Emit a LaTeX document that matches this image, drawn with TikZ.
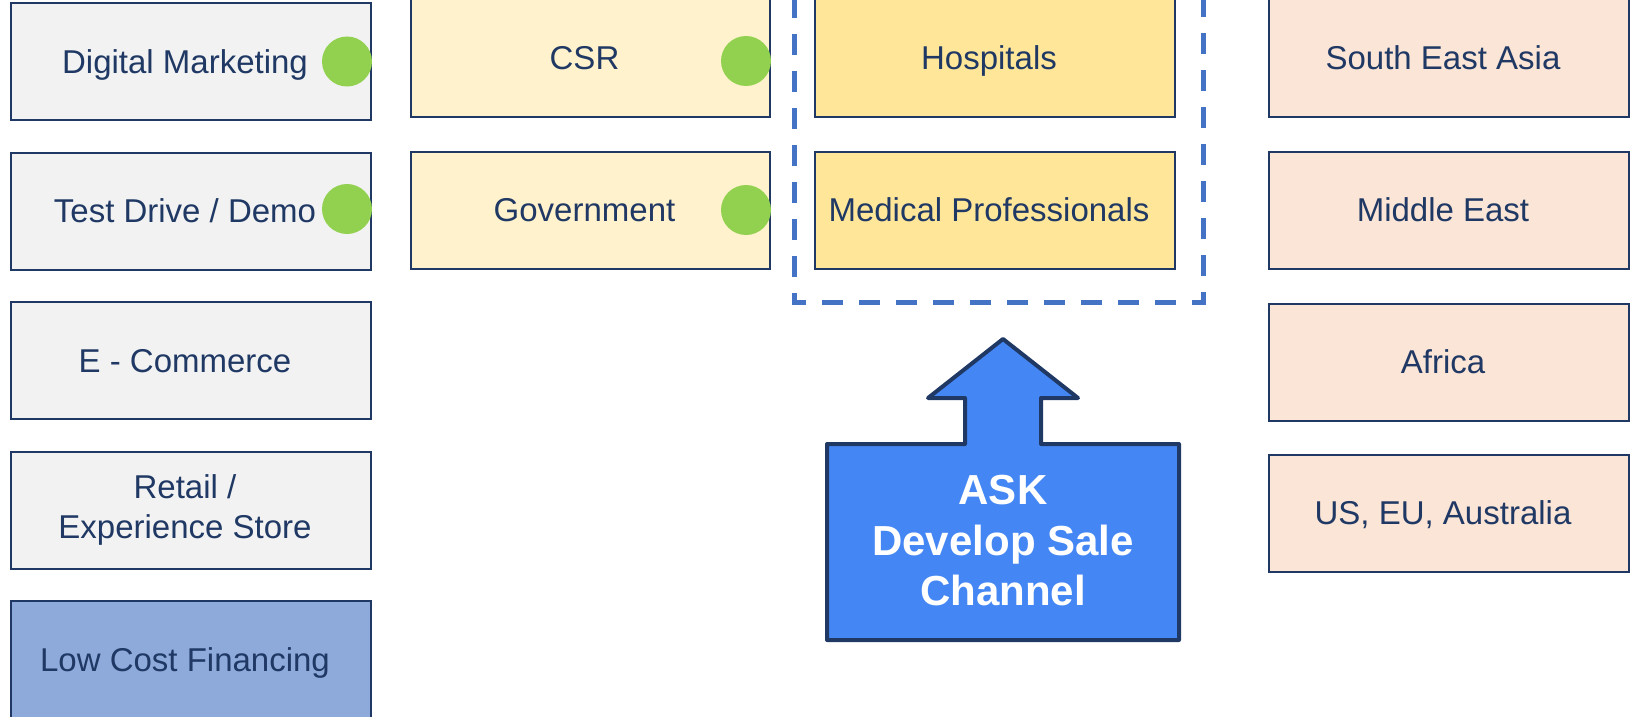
\documentclass[tikz,border=0pt]{standalone}
\usepackage{fontspec}
\setmainfont{Liberation Sans}
\usetikzlibrary{positioning}
\definecolor{navy}{HTML}{1F3864}
\definecolor{greyfill}{HTML}{F2F2F2}
\definecolor{bluefill}{HTML}{8EAADB}
\definecolor{creamfill}{HTML}{FFF2CC}
\definecolor{goldfill}{HTML}{FFE699}
\definecolor{peachfill}{HTML}{FBE5D6}
\definecolor{dotgreen}{HTML}{92D050}
\definecolor{dashblue}{HTML}{4472C4}
\definecolor{askblue}{HTML}{4487F4}

\begin{document}
\begin{tikzpicture}[x=1pt,y=-1pt,node distance=30.5pt and 38pt,box/.style={draw=navy,line width=2pt,minimum width=360pt,minimum height=117pt,inner sep=0pt,align=center,text=navy,font=\fontsize{33}{40}\selectfont,execute at begin node={\rule[-6.4pt]{0pt}{36.4pt}},execute at end node={\hspace*{12pt}}},dot/.style={circle,fill=dotgreen,minimum size=50pt,inner sep=0pt}]
                \clip (0,0) rectangle (1630,717);

                \node[box,fill=greyfill] (dm) at (191,61.5) {Digital Marketing};
                \node[box,fill=greyfill] (td) [below=of dm] {Test Drive / Demo};
                \node[box,fill=greyfill] (ec) [below=of td] {E - Commerce};
                \node[box,fill=greyfill] (rs) [below=of ec] {Retail /\\Experience Store};
                \node[box,fill=bluefill] (lcf) [below=of rs] {Low Cost Financing};

                \node[box,fill=creamfill,minimum width=359pt] (csr) [right=of dm,yshift=3.5pt] {CSR};
                \node[box,fill=creamfill,minimum width=359pt] (gov) [below=33pt of csr] {Government};
                \node[box,fill=goldfill] (hosp) [right=43pt of csr] {Hospitals};
                \node[box,fill=goldfill] (med) [below=33pt of hosp] {Medical Professionals};

                \node[box,fill=peachfill] (sea) [right=92pt of hosp] {South East Asia};
                \node[box,fill=peachfill] (me) [below=33pt of sea] {Middle East};
                \node[box,fill=peachfill] (af) [below=33pt of me] {Africa};
                \node[box,fill=peachfill] (us) [below=32pt of af] {US, EU, Australia};

                \node[dot] (dm dot) at ([xshift=-25pt]dm.east) {};
                \node[dot] (td dot) at ([xshift=-25pt,yshift=2pt]td.east) {};
                \node[dot] (csr dot) at ([xshift=-25pt,yshift=-3pt]csr.east) {};
                \node[dot] (gov dot) at ([xshift=-25pt]gov.east) {};

                % group round the medical targets
                \draw[dashblue,line width=5pt,dash pattern=on 21pt off 16pt] (794,-40) -- (794,302) -- (1203,302) -- (1203,-40);

                % up arrow callout
                \draw[navy,fill=askblue,line width=4pt,line join=round] (827,640) -- (827,444) -- (965,444) -- (965,398) -- (928,398) -- (1003,339) -- (1078,398) -- (1041,398) -- (1041,444) -- (1179,444) -- (1179,640) -- cycle;
                \node[align=center,text=white,font=\fontsize{42}{50.5}\selectfont\bfseries] (ask) at (1003,541) {ASK\\Develop Sale\\Channel};
            \end{tikzpicture}
\end{document}
